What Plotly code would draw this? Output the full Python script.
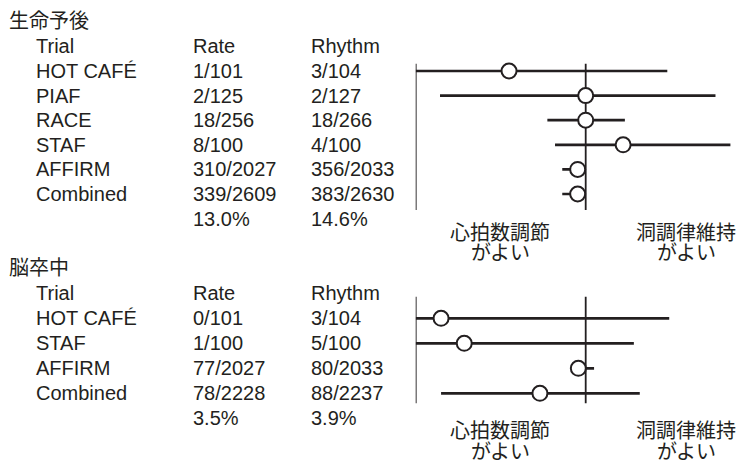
import plotly.graph_objects as go

# ---- data: mortality (生命予後) ----
mort_trials = ["HOT CAFÉ", "PIAF", "RACE", "STAF", "AFFIRM", "Combined"]
mort_rate = ["1/101", "2/125", "18/256", "8/100", "310/2027", "339/2609"]
mort_rhythm = ["3/104", "2/127", "18/266", "4/100", "356/2033", "383/2630"]
mort_pct = ["13.0%", "14.6%"]
mort_or = [0.354, 1.0, 1.0, 1.66, 0.897, 0.897]
mort_lo = [0.1, 0.139, 0.595, 0.66, 0.728, 0.728]
mort_hi = [3.02, 5.8, 1.70, 7.1, 0.98, 0.98]

# ---- data: stroke (脳卒中) ----
str_trials = ["HOT CAFÉ", "STAF", "AFFIRM", "Combined"]
str_rate = ["0/101", "1/100", "77/2027", "78/2228"]
str_rhythm = ["3/104", "5/100", "80/2033", "88/2237"]
str_pct = ["3.5%", "3.9%"]
str_or = [0.141, 0.193, 0.905, 0.538]
str_lo = [0.1, 0.1, 0.85, 0.141]
str_hi = [3.10, 1.92, 1.12, 2.08]

headers = ["Trial", "Rate", "Rhythm"]
favour_left = ["心拍数調節", "がよい"]
favour_right = ["洞調律維持", "がよい"]

W, H = 752, 460
INK = "#231f20"
LATIN = "Liberation Sans, Arial, Helvetica, sans-serif"
CJK = "Noto Sans CJK JP, sans-serif"

fig = go.Figure()


def px_x(p):
    return p / W


def px_y(p):
    return 1 - p / H


def panel(xref, yref, trials, rate, rhythm, pct, est, lo, hi, vspan):
    # vertical guide lines: axis edge and line of no effect
    for xv in (0.1, 1.0):
        fig.add_trace(go.Scatter(x=[xv, xv], y=list(vspan), mode="lines",
                                 line=dict(color=INK, width=1.8),
                                 xaxis=xref, yaxis=yref, hoverinfo="skip"))
    # confidence intervals
    for i in range(len(trials)):
        fig.add_trace(go.Scatter(x=[lo[i], hi[i]], y=[i, i], mode="lines",
                                 line=dict(color=INK, width=2.7),
                                 xaxis=xref, yaxis=yref, hoverinfo="skip"))
    # point estimates
    fig.add_trace(go.Scatter(x=est, y=list(range(len(trials))), mode="markers",
                             marker=dict(symbol="circle", size=15, color="white",
                                         line=dict(color=INK, width=2)),
                             xaxis=xref, yaxis=yref, cliponaxis=False,
                             hoverinfo="skip"))
    # table text
    cols = [35, 192, 310]
    rows = [(-1, headers)]
    for i in range(len(trials)):
        rows.append((i, [trials[i], rate[i], rhythm[i]]))
    rows.append((len(trials), ["", pct[0], pct[1]]))
    for r, vals in rows:
        for cx, txt in zip(cols, vals):
            if not txt:
                continue
            fig.add_annotation(x=px_x(cx), xref="paper", y=r, yref=yref,
                               text=txt, showarrow=False, xanchor="left",
                               yanchor="middle", borderpad=0,
                               font=dict(family=LATIN, size=20, color=INK))


panel("x", "y", mort_trials, mort_rate, mort_rhythm, mort_pct,
      mort_or, mort_lo, mort_hi, (-0.3, 5.65))
panel("x2", "y2", str_trials, str_rate, str_rhythm, str_pct,
      str_or, str_lo, str_hi, (-0.86, 3.4))

# section titles
for txt, yc in (("生命予後", 19.5), ("脳卒中", 266.5)):
    fig.add_annotation(x=px_x(8), xref="paper", y=px_y(yc), yref="paper",
                       text=txt, showarrow=False, xanchor="left",
                       yanchor="middle", borderpad=0,
                       font=dict(family=CJK, size=20, color=INK))

# favours labels under each panel
for base in (231.5, 429.5):
    for j in range(2):
        yc = base + 20.5 * j
        fig.add_annotation(x=px_x(500), xref="paper", y=px_y(yc), yref="paper",
                           text=favour_left[j], showarrow=False,
                           xanchor="center", yanchor="middle", borderpad=0,
                           font=dict(family=CJK, size=20, color=INK))
        fig.add_annotation(x=px_x(686), xref="paper", y=px_y(yc), yref="paper",
                           text=favour_right[j], showarrow=False,
                           xanchor="center", yanchor="middle", borderpad=0,
                           font=dict(family=CJK, size=20, color=INK))

xdom = [415.7 / W, 747.2 / W]
xrng = [-1.0, 0.95]
fig.update_layout(
    width=W, height=H,
    margin=dict(l=0, r=0, t=0, b=0),
    paper_bgcolor="white", plot_bgcolor="white",
    showlegend=False,
    xaxis=dict(type="log", range=xrng, domain=xdom, visible=False),
    xaxis2=dict(type="log", range=xrng, domain=xdom, visible=False),
    yaxis=dict(range=[6.8, -1.2], domain=[1 - 238.3 / H, 1 - 41.5 / H],
               visible=False),
    yaxis2=dict(range=[4.6, -1.6], domain=[1 - 433.3 / H, 1 - 278.3 / H],
                visible=False),
)

fig.write_html("out.html")
